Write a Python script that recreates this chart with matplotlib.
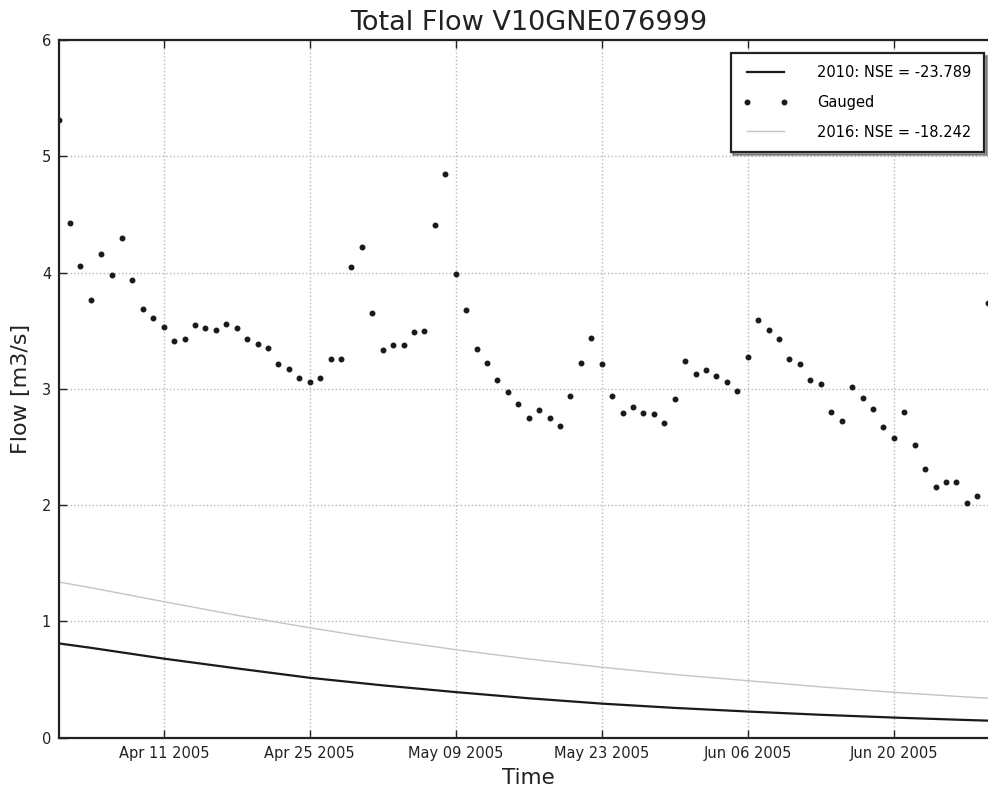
import numpy as np
import pandas as pd
import matplotlib
matplotlib.use('Agg')
import matplotlib.pyplot as plt
import matplotlib.dates as mdates

# gauged daily flow, Apr 01 - Jun 29 2005
gauged_dates = pd.date_range('2005-04-01', '2005-06-29', freq='D')
gauged_flow = [
    5.31, 4.43, 4.06, 3.76, 4.16, 3.98, 4.30, 3.94, 3.69, 3.61,
    3.53, 3.41, 3.43, 3.55, 3.52, 3.51, 3.56, 3.52, 3.43, 3.39,
    3.35, 3.21, 3.17, 3.09, 3.06, 3.09, 3.26, 3.26, 4.05, 4.22,
    3.65, 3.33, 3.38, 3.38, 3.49, 3.50, 4.41, 4.85, 3.99, 3.68,
    3.34, 3.22, 3.08, 2.97, 2.87, 2.75, 2.82, 2.75, 2.68, 2.94,
    3.22, 3.44, 3.21, 2.94, 2.79, 2.84, 2.79, 2.78, 2.71, 2.91,
    3.24,
    3.13, 3.16, 3.11, 3.06, 2.98, 3.27, 3.59, 3.51, 3.43, 3.26,
    3.21, 3.08, 3.04, 2.80, 2.72, 3.02, 2.92, 2.83, 2.67, 2.58,
    2.80, 2.52, 2.31, 2.16, 2.20, 2.20, 2.02, 2.08, 3.74,
]

# simulated flow, read off roughly once a week
model_dates = pd.to_datetime([
    '2005-04-01', '2005-04-04', '2005-04-11', '2005-04-18', '2005-04-25',
    '2005-05-02', '2005-05-09', '2005-05-16', '2005-05-23', '2005-05-30',
    '2005-06-06', '2005-06-13', '2005-06-20', '2005-06-27', '2005-06-30',
])
flow_2010 = [0.81, 0.773, 0.680, 0.596, 0.515, 0.450, 0.392, 0.339, 0.293,
             0.256, 0.225, 0.197, 0.173, 0.152, 0.144]
flow_2016 = [1.338, 1.29, 1.170, 1.053, 0.945, 0.846, 0.757, 0.677, 0.606,
             0.543, 0.490, 0.437, 0.390, 0.350, 0.335]

label_2010 = '2010: NSE = -23.789'
label_2016 = '2016: NSE = -18.242'

tick_dates = pd.to_datetime(['2005-04-11', '2005-04-25', '2005-05-09',
                             '2005-05-23', '2005-06-06', '2005-06-20'])
y_ticks = [0, 1, 2, 3, 4, 5, 6]

fig = plt.figure(figsize=(9.88, 7.91), dpi=100)
ax = fig.add_axes([0.0602, 0.0674, 0.950, 0.882])

ax.plot(model_dates, flow_2010, color='#1a1a1a', lw=1.6, label=label_2010)
ax.plot(gauged_dates, gauged_flow, '.', color='#1a1a1a', ms=6.5, label='Gauged')
ax.plot(model_dates, flow_2016, color='#c4c4c4', lw=1.0, label=label_2016)

ax.set_xlim(pd.Timestamp('2005-04-01'), pd.Timestamp('2005-06-30'))
ax.set_ylim(0, 6)
ax.set_xticks(tick_dates)
ax.xaxis.set_major_formatter(mdates.DateFormatter('%b %d %Y'))
ax.set_yticks(y_ticks)

ax.grid(True, color='#b8b8b8', linestyle=':', lw=1.0)
ax.tick_params(direction='in', length=6, width=1, labelsize=10.5,
               top=True, right=True, colors='#222222', pad=6)
for s in ax.spines.values():
    s.set_linewidth(1.6)
    s.set_color('#222222')

ax.set_title('Total Flow V10GNE076999', fontsize=19.5, color='#222222', pad=7)
ax.set_xlabel('Time', fontsize=15.5, color='#222222', labelpad=5)
ax.set_ylabel('Flow [m3/s]', fontsize=16, color='#222222', labelpad=8)

leg = ax.legend(loc='upper right', bbox_to_anchor=(984 / 988, 1 - 53 / 791),
                bbox_transform=fig.transFigure, borderaxespad=0,
                fontsize=10.5, numpoints=2, handlelength=3.1, handletextpad=2.0,
                labelspacing=1.0, borderpad=0.85, fancybox=False, shadow=True,
                framealpha=1)
leg.get_frame().set_edgecolor('#222222')
leg.get_frame().set_linewidth(1.6)

fig.savefig('out.png', dpi=100)
